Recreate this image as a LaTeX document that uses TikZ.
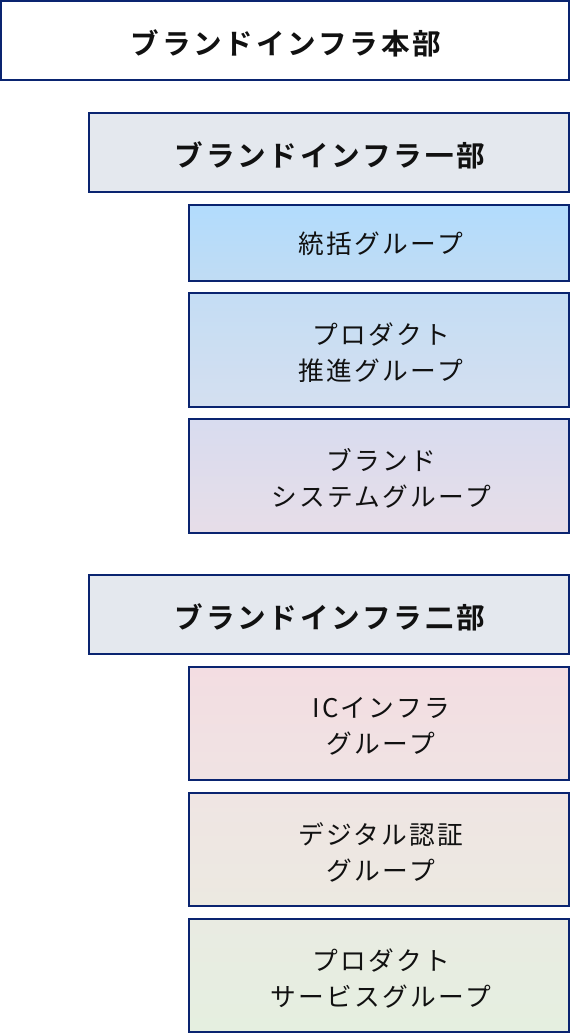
\documentclass[tikz,border=0pt]{standalone}
\usepackage{fontspec}
\setmainfont{Noto Sans CJK JP}[LetterSpace=9]
\newfontfamily\headfont{Noto Sans CJK JP}[LetterSpace=10,BoldFont={* Bold}]
\definecolor{navy}{HTML}{0A2470}
\definecolor{txt}{HTML}{111111}
\definecolor{hgray}{HTML}{E4E8EE}
\begin{document}
\begin{tikzpicture}[x=1pt,y=-1pt,
  box/.style={draw=navy,line width=2pt,inner sep=0pt,outer sep=0pt},
  headtxt/.style={text=txt,font=\headfont\bfseries\fontsize{28.6}{32}\selectfont,align=center},
  grptxt/.style={text=txt,font=\fontsize{25.7}{36}\selectfont,align=center}]
\useasboundingbox (0,0) rectangle (570,1034);
% top
\draw[box,fill=white] (1,1) rectangle (569,80);
\node[headtxt] (hq) at (286,43) {ブランドインフラ本部};
% dept 1
\draw[box,fill=hgray] (89,113) rectangle (569,192);
\node[headtxt] (d1) at (330,155) {ブランドインフラ一部};
\shade[top color={rgb,255:red,178;green,220;blue,253},bottom color={rgb,255:red,192;green,220;blue,244}] (189,205) rectangle (569,281);
\draw[box] (189,205) rectangle (569,281);
\node[grptxt] (g1) at (381,244) {統括グループ};
\shade[top color={rgb,255:red,196;green,221;blue,244},bottom color={rgb,255:red,212;green,223;blue,240}] (189,293) rectangle (569,407);
\draw[box] (189,293) rectangle (569,407);
\node[grptxt] (g2) at (381,352.5) {プロダクト\\推進グループ};
\shade[top color={rgb,255:red,216;green,220;blue,239},bottom color={rgb,255:red,231;green,221;blue,232}] (189,419) rectangle (569,533);
\draw[box] (189,419) rectangle (569,533);
\node[grptxt] (g3) at (381,478.5) {ブランド\\システムグループ};
% dept 2
\draw[box,fill=hgray] (89,575) rectangle (569,654);
\node[headtxt] (d2) at (330,617) {ブランドインフラ二部};
\shade[top color={rgb,255:red,243;green,221;blue,226},bottom color={rgb,255:red,240;green,227;blue,227}] (189,667) rectangle (569,780);
\draw[box] (189,667) rectangle (569,780);
\node[grptxt] (g4) at (381,726.5) {ICインフラ\\グループ};
\shade[top color={rgb,255:red,239;green,229;blue,227},bottom color={rgb,255:red,236;green,233;blue,225}] (189,793) rectangle (569,906);
\draw[box] (189,793) rectangle (569,906);
\node[grptxt] (g5) at (381,852.5) {デジタル認証\\グループ};
\shade[top color={rgb,255:red,233;green,235;blue,226},bottom color={rgb,255:red,229;green,239;blue,224}] (189,919) rectangle (569,1032);
\draw[box] (189,919) rectangle (569,1032);
\node[grptxt] (g6) at (381,978.5) {プロダクト\\サービスグループ};
\end{tikzpicture}
\end{document}
